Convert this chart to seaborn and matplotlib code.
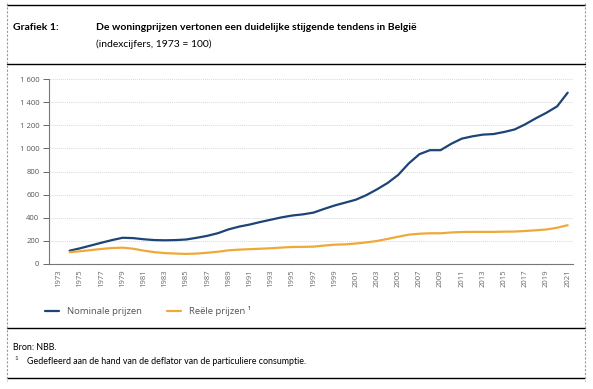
import numpy as np
import pandas as pd
import seaborn as sns
import matplotlib.pyplot as plt
from matplotlib.lines import Line2D
from matplotlib.ticker import FixedLocator, FuncFormatter

# jaren en indexcijfers (1973 = 100)
jaren = list(range(1974, 2022))
nominaal = [113, 134, 158, 182, 205, 225, 222, 212, 205, 203,
            205, 210, 225, 242, 265, 298, 322, 340, 362, 382,
            402, 418, 428, 443, 475, 505, 530, 555, 595, 645,
            700, 770, 870, 950, 985, 985, 1040, 1085, 1105, 1120,
            1125, 1143, 1165, 1210, 1262, 1310, 1365, 1484]
reeel = [100, 108, 118, 128, 136, 139, 130, 113, 100, 92,
         88, 85, 88, 95, 104, 116, 122, 126, 130, 134,
         140, 145, 146, 148, 157, 165, 168, 175, 185, 197,
         215, 234, 252, 260, 264, 264, 271, 275, 276, 276,
         276, 278, 279, 284, 290, 297, 312, 334]
reeksen = ["Nominale prijzen", "Reële prijzen \u00b9"]
kleuren = ["#1c4476", "#eea93a"]
yticks = [0, 200, 400, 600, 800, 1000, 1200, 1400, 1600]
xlabels = list(range(1973, 2022, 2))

df = pd.DataFrame({
    "jaar": jaren * 2,
    "index": nominaal + reeel,
    "reeks": [reeksen[0]] * len(jaren) + [reeksen[1]] * len(jaren),
})

sns.set_style("white")
plt.rcParams["font.family"] = ["Open Sans", "DejaVu Sans"]

W, H = 593, 389
fig = plt.figure(figsize=(W / 100, H / 100), dpi=100)
ax = fig.add_axes([49 / W, 1 - 263.7 / H, (573 - 49) / W, (263.7 - 79.3) / H])

sns.lineplot(data=df, x="jaar", y="index", hue="reeks", palette=kleuren,
             linewidth=1.6, ax=ax, legend=True)

ax.set_xlim(1972.05, 2021.5)
ax.set_ylim(0, 1600)
ax.set_xlabel("")
ax.set_ylabel("")

ax.set_yticks(yticks)
ax.yaxis.set_major_formatter(FuncFormatter(lambda v, p: f"{int(v):,}".replace(",", " ")))
ax.set_xticks(xlabels)
ax.set_xticklabels([str(j) for j in xlabels], rotation=90)
ax.xaxis.set_minor_locator(FixedLocator(list(range(1974, 2021, 2))))

ax.tick_params(axis="x", which="major", length=0, pad=4, labelsize=5.5, labelcolor="#666666")
ax.tick_params(axis="x", which="minor", length=4, width=0.7, color="#666666", direction="in")
ax.tick_params(axis="y", which="major", length=4, width=0.7, color="#666666",
               pad=3, labelsize=5.5, labelcolor="#555555", left=True)

ax.grid(axis="y", color="#d8d8d8", linestyle=(0, (1, 1)), linewidth=0.7)
ax.grid(axis="x", visible=False)
for s in ["top", "right"]:
    ax.spines[s].set_visible(False)
for s in ["left", "bottom"]:
    ax.spines[s].set_color("#777777")
    ax.spines[s].set_linewidth(0.8)

handles, labels = ax.get_legend_handles_labels()
ax.get_legend().remove()
fig.legend(handles, labels, loc="center left", bbox_to_anchor=(36 / W, 1 - 311 / H),
           ncol=2, frameon=False, fontsize=6.8, handlelength=1.5, columnspacing=2.6,
           handletextpad=0.9, labelcolor="#555555")

# kader
kw = dict(color="black", linewidth=1.0)
for y in [5, 64, 327.5, 378]:
    fig.add_artist(Line2D([7 / W, 585 / W], [1 - y / H, 1 - y / H], **kw))
for x in [7, 585]:
    fig.add_artist(Line2D([x / W, x / W], [1 - 3 / H, 1 - 381 / H], color="#999999",
                          linewidth=0.8, linestyle=(0, (2, 1.5))))

kop = dict(family=["Lato", "DejaVu Sans"], fontsize=7.5, va="center", color="black")
fig.text(13 / W, 1 - 28 / H, "Grafiek 1:", fontweight="bold", **kop)
fig.text(96 / W, 1 - 28 / H, "De woningprijzen vertonen een duidelijke stijgende tendens in België",
         fontweight="bold", **kop)
fig.text(96 / W, 1 - 44 / H, "(indexcijfers, 1973 = 100)", **kop)

voet = dict(family=["Lato", "DejaVu Sans"], fontsize=6.4, va="center", color="black")
fig.text(13 / W, 1 - 347 / H, "Bron: NBB.", **voet)
fig.text(14 / W, 1 - 358 / H, "1", fontsize=4.5, family=["Lato", "DejaVu Sans"], va="center")
fig.text(27 / W, 1 - 361 / H, "Gedefleerd aan de hand van de deflator van de particuliere consumptie.", **voet)

fig.savefig("out.png", dpi=100)
